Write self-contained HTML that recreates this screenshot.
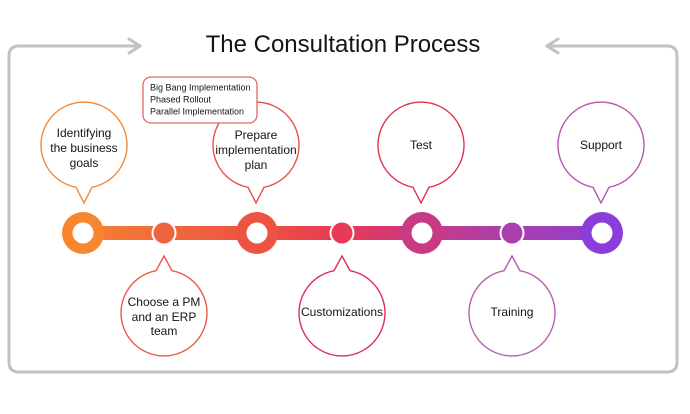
<!DOCTYPE html>
<html>
<head>
<meta charset="utf-8">
<style>
  html,body{margin:0;padding:0;background:#fff;}
  svg{display:block;}
  text{font-family:"Liberation Sans", Arial, sans-serif;fill:#141414;}
</style>
</head>
<body>
<svg width="690" height="414" viewBox="0 0 690 414" xmlns="http://www.w3.org/2000/svg">
  <defs>
    <linearGradient id="bar" gradientUnits="userSpaceOnUse" x1="62" y1="0" x2="623" y2="0">
      <stop offset="0" stop-color="#F7862F"/>
      <stop offset="0.18" stop-color="#F06A3C"/>
      <stop offset="0.35" stop-color="#EC5343"/>
      <stop offset="0.50" stop-color="#E63A55"/>
      <stop offset="0.64" stop-color="#C93A85"/>
      <stop offset="0.80" stop-color="#AA3FAE"/>
      <stop offset="1" stop-color="#8B3DD9"/>
    </linearGradient>
  </defs>

  <!-- frame -->
  <path d="M140 46 L19 46 Q9 46 9 56 L9 362 Q9 372 19 372 L667 372 Q677 372 677 362 L677 56 Q677 46 667 46 L547 46"
        fill="none" stroke="#C2C2C2" stroke-width="3" stroke-linecap="round" stroke-linejoin="round"/>
  <polyline points="129,39 140,46 129,53" fill="none" stroke="#C2C2C2" stroke-width="3" stroke-linecap="round" stroke-linejoin="round"/>
  <polyline points="558,39 547,46 558,53" fill="none" stroke="#C2C2C2" stroke-width="3" stroke-linecap="round" stroke-linejoin="round"/>

  <!-- title -->
  <text x="343" y="52" font-size="24" text-anchor="middle">The Consultation Process</text>

  <!-- top bubbles (tail down) -->
  <g fill="#fff" stroke-width="1.4">
    <path d="M76 187.3 A43 43 0 1 1 92 187.3 L84 203 Z" stroke="#F28A3A"/>
    <path d="M248 187.3 A43 43 0 1 1 264 187.3 L256 203 Z" stroke="#E8504A"/>
    <path d="M413 187.3 A43 43 0 1 1 429 187.3 L421 203 Z" stroke="#E0344E"/>
    <path d="M593 187.3 A43 43 0 1 1 609 187.3 L601 203 Z" stroke="#B457B2"/>
  </g>
  <!-- bottom bubbles (tail up) -->
  <g fill="#fff" stroke-width="1.4">
    <path d="M172 270.7 A43 43 0 1 1 156 270.7 L164 256 Z" stroke="#EA5A45"/>
    <path d="M350 270.7 A43 43 0 1 1 334 270.7 L342 256 Z" stroke="#DE2E58"/>
    <path d="M520 270.7 A43 43 0 1 1 504 270.7 L512 256 Z" stroke="#B55FAE"/>
  </g>

  <!-- callout box -->
  <rect x="143" y="77" width="114" height="46" rx="8" ry="8" fill="#fff" stroke="#E36B63" stroke-width="1.3"/>
  <g font-size="9">
    <text x="150" y="90.5">Big Bang Implementation</text>
    <text x="150" y="102.5">Phased Rollout</text>
    <text x="150" y="114.5">Parallel Implementation</text>
  </g>

  <!-- bubble texts -->
  <g font-size="12" text-anchor="middle">
    <text x="84" y="137">Identifying</text>
    <text x="84" y="152">the business</text>
    <text x="84" y="167">goals</text>

    <text x="256" y="139">Prepare</text>
    <text x="256" y="154">implementation</text>
    <text x="256" y="169">plan</text>

    <text x="421" y="149">Test</text>
    <text x="601" y="149">Support</text>

    <text x="164" y="306">Choose a PM</text>
    <text x="164" y="321">and an ERP</text>
    <text x="164" y="335">team</text>

    <text x="342" y="316">Customizations</text>
    <text x="512" y="316">Training</text>
  </g>

  <!-- timeline -->
  <rect x="83" y="226" width="519" height="14" fill="url(#bar)"/>
  <!-- rings -->
  <circle cx="83" cy="233" r="21" fill="#F7862F"/>
  <circle cx="83" cy="233" r="10.5" fill="#fff"/>
  <circle cx="257" cy="233" r="21" fill="#EC5343"/>
  <circle cx="257" cy="233" r="10.5" fill="#fff"/>
  <circle cx="422" cy="233" r="21" fill="#C93A85"/>
  <circle cx="422" cy="233" r="10.5" fill="#fff"/>
  <circle cx="602" cy="233" r="21" fill="#8B3DD9"/>
  <circle cx="602" cy="233" r="10.5" fill="#fff"/>
  <!-- small dots -->
  <circle cx="164" cy="233" r="12.5" fill="#fff"/>
  <circle cx="164" cy="233" r="10.5" fill="#EE6440"/>
  <circle cx="342" cy="233" r="12.5" fill="#fff"/>
  <circle cx="342" cy="233" r="10.5" fill="#E63A55"/>
  <circle cx="512" cy="233" r="12.5" fill="#fff"/>
  <circle cx="512" cy="233" r="10.5" fill="#AA3FAE"/>
</svg>
</body>
</html>
